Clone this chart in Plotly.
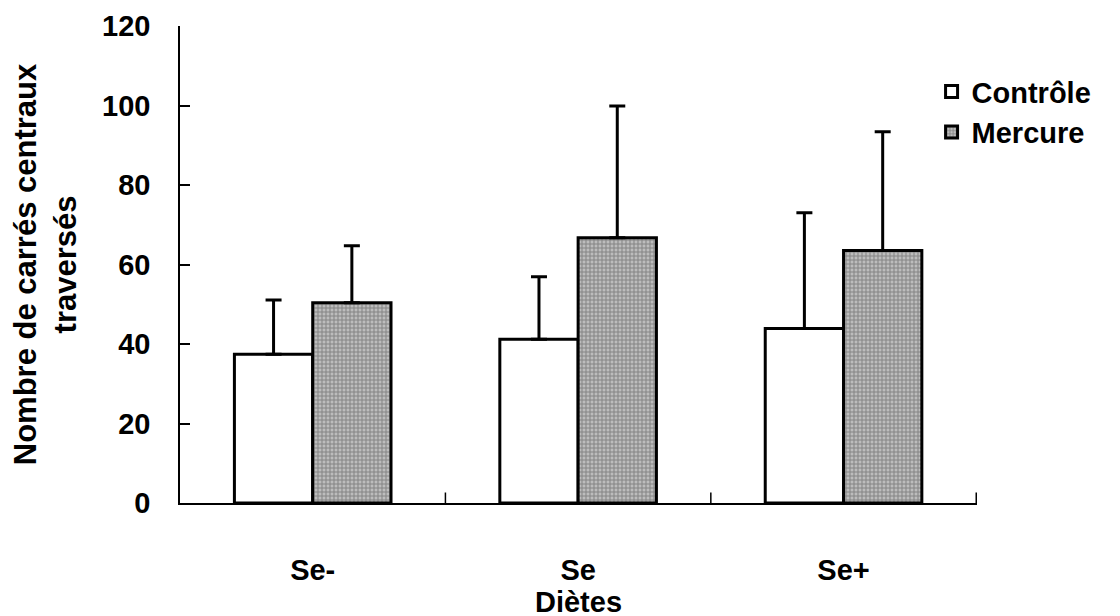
import plotly.graph_objects as go

categories = ["Se-", "Se", "Se+"]
controle = [37.4, 41.2, 43.9]
controle_err = [13.7, 15.7, 29.1]
mercure = [50.4, 66.7, 63.5]
mercure_err = [14.3, 33.2, 29.9]
y_ticks = [0, 20, 40, 60, 80, 100, 120]

FONT = "Arial, Liberation Sans, sans-serif"

fig = go.Figure()
fig.add_trace(go.Bar(
    name="Contrôle", x=categories, y=controle,
    marker=dict(color="white", line=dict(color="black", width=3)),
    error_y=dict(type="data", symmetric=False, array=controle_err,
                 arrayminus=[0, 0, 0], color="black", thickness=3, width=8),
))
fig.add_trace(go.Bar(
    name="Mercure", x=categories, y=mercure,
    marker=dict(color="#a8a8a8", line=dict(color="black", width=3),
                pattern=dict(shape="+", fgcolor="#4a4a4a", bgcolor="#bdbdbd",
                             size=4, solidity=0.45)),
    error_y=dict(type="data", symmetric=False, array=mercure_err,
                 arrayminus=[0, 0, 0], color="black", thickness=3, width=8),
))

fig.update_layout(
    width=1120, height=616,
    barmode="group", bargap=0.41, bargroupgap=0,
    plot_bgcolor="white", paper_bgcolor="white",
    margin=dict(l=172, r=151, t=18, b=121, autoexpand=False),
    font=dict(family=FONT, color="black", size=28),
    showlegend=True,
    legend=dict(x=0.943, y=0.916, xanchor="left", yanchor="top",
                font=dict(family=FONT, size=29, color="black", weight="bold"),
                bgcolor="rgba(0,0,0,0)", itemwidth=30, tracegroupgap=2),
)
fig.update_xaxes(
    automargin=False,
    showline=True, linecolor="black", linewidth=1.5,
    ticks="", showgrid=False,
    tickfont=dict(family=FONT, size=29, color="black", weight="bold"),
    ticklabelstandoff=40,
    title=dict(text="Diètes", font=dict(family=FONT, size=29, color="black", weight="bold"),
               standoff=0),
)
fig.update_yaxes(
    automargin=False,
    range=[0, 120], tickvals=y_ticks,
    showline=True, linecolor="black", linewidth=1.5,
    ticks="inside", ticklen=10, tickcolor="black", tickwidth=1.5,
    showgrid=False, zeroline=False,
    tickfont=dict(family=FONT, size=29, color="black", weight="bold"),
    ticklabelstandoff=22,
    title=dict(text="Nombre de carrés centraux<br>traversés",
               font=dict(family=FONT, size=31, color="black", weight="bold"),
               standoff=20),
)
# category boundary ticks on x axis (inside, upward)
for b in [0.5, 1.5, 2.5]:
    fig.add_shape(type="line", xref="x", yref="paper", x0=b, x1=b, y0=0, y1=0.022,
                  line=dict(color="black", width=1.5))

fig.write_html("out.html")
